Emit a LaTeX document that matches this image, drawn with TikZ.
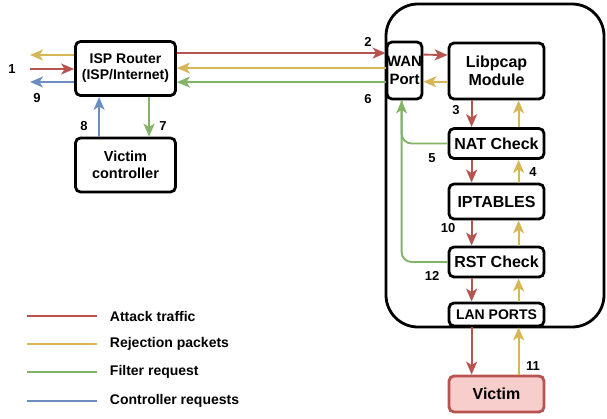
\documentclass[tikz,border=0pt]{standalone}
\usepackage{fontspec}
\setmainfont{Liberation Sans}
\usepackage{tikz}
\usetikzlibrary{arrows.meta}

\definecolor{atkred}{RGB}{184,84,80}
\definecolor{rejyel}{RGB}{214,182,86}
\definecolor{filgrn}{RGB}{130,179,102}
\definecolor{ctlblu}{RGB}{108,142,191}
\definecolor{vicpink}{RGB}{248,206,204}

\tikzset{
  blk/.style={draw, line width=2.8pt, rounded corners=5pt, fill=white, align=center,
    inner sep=1pt, font=\fontsize{16}{18}\selectfont\bfseries},
  flow/.style={line width=1.9pt, -{Stealth[length=13pt,width=11pt,inset=3.5pt]}},
  num/.style={font=\fontsize{13}{15}\selectfont\bfseries, inner sep=0.75pt},
  legtxt/.style={anchor=west, font=\fontsize{14}{16}\selectfont\bfseries, inner sep=0.75pt}
}

\begin{document}
\begin{tikzpicture}[x=1pt,y=1pt,yscale=-1,xscale=1]
\useasboundingbox (0,0) rectangle (607,418);

% router box container
\draw [line width=2.8pt, rounded corners=32pt] (386,4) rectangle (604,327);

\node [blk, minimum width=100, minimum height=54, font=\fontsize{14}{16}\selectfont\bfseries] (isp) at (125.5,68.5) {ISP Router\\(ISP/Internet)};
\node [blk, minimum width=100, minimum height=54, font=\fontsize{14.5}{17}\selectfont\bfseries] (ctl) at (125.5,165) {Victim\\controller};
\node [blk, minimum width=35, minimum height=57, inner sep=0pt, font=\fontsize{15}{18}\selectfont\bfseries] (wan) at (404.5,70.5) {WAN\\Port};
\node [blk, minimum width=95, minimum height=56] (lib) at (496.5,71) {Libpcap\\Module};
\node [blk, minimum width=95, minimum height=30] (nat) at (496.5,143.5) {NAT Check};
\node [blk, minimum width=95, minimum height=35] (ipt) at (496.5,201.5) {IPTABLES};
\node [blk, minimum width=95, minimum height=30] (rst) at (496.5,262) {RST Check};
\node [blk, minimum width=95, minimum height=23, font=\fontsize{14}{16}\selectfont\bfseries] (lan) at (496.5,314.5) {LAN PORTS};
\node [blk, minimum width=95, minimum height=36, draw=atkred, fill=vicpink] (vic) at (496.5,394) {Victim};

% free ends on the left
\coordinate (yout) at (30,55);
\coordinate (rin) at (30,69);
\coordinate (bout) at (30,82);

\draw [flow, rejyel] (isp.west |- yout) -- (yout);
\draw [flow, atkred] (rin) -- (isp.west |- rin);
\draw [flow, ctlblu] (isp.west |- bout) -- (bout);

% isp <-> controller
\draw [flow, ctlblu] ([xshift=25pt]ctl.north west) -- ([xshift=25pt]isp.south west);
\draw [flow, filgrn] ([xshift=75pt]isp.south west) -- ([xshift=75pt]ctl.north west);

% isp <-> wan
\draw [flow, atkred] ([yshift=13pt]isp.north east) -- ([yshift=12.5pt]wan.north west);
\draw [flow, rejyel] ([yshift=27.5pt]wan.north west) -- ([yshift=28pt]isp.north east);
\draw [flow, filgrn] ([yshift=41.5pt]wan.north west) -- ([yshift=42pt]isp.north east);

% wan <-> libpcap
\draw [flow, atkred] ([yshift=14pt]wan.north east) -- ([yshift=13.5pt]lib.north west);
\draw [flow, rejyel] ([yshift=40.5pt]lib.north west) -- ([yshift=41pt]wan.north east);

% chain down to the victim
\foreach \a/\b in {lib/nat, nat/ipt, ipt/rst, rst/lan, lan/vic}{
  \draw [flow, atkred] ([xshift=24pt]\a.south west) -- ([xshift=24pt]\b.north west);
  \draw [flow, rejyel] ([xshift=71pt]\b.north west) -- ([xshift=71pt]\a.south west);
}

% filter requests back to wan
\draw [line width=1.9pt, filgrn, rounded corners=10pt] (nat.west) -| ([xshift=16pt]wan.south west);
\draw [flow, filgrn, rounded corners=10pt] (rst.west) -| ([xshift=16pt]wan.south west);

% numbers
\node [num] (n1) at (12,69) {1};
\node [num] (n9) at (37,98) {9};
\node [num] (n8) at (84,126) {8};
\node [num] (n7) at (163,126) {7};
\node [num] (n2) at (368,42) {2};
\node [num] (n6) at (368,99) {6};
\node [num] (n3) at (456,110) {3};
\node [num] (n5) at (432,158) {5};
\node [num] (n4) at (533,172) {4};
\node [num] (n10) at (448,228) {10};
\node [num] (n12) at (432,276) {12};
\node [num] (n11) at (533,366) {11};

% legend
\coordinate (la) at (27,316);
\coordinate (lb) at (27,344);
\coordinate (lc) at (27,372);
\coordinate (ld) at (27,401);
\node [legtxt] (ta) at (109,316) {Attack traffic};
\node [legtxt] (tb) at (109,344) {Rejection packets};
\node [legtxt] (tc) at (109,372) {Filter request};
\node [legtxt] (td) at (109,401) {Controller requests};
\draw [line width=2pt, atkred] (la) -- ++(70,0);
\draw [line width=2pt, rejyel] (lb) -- ++(70,0);
\draw [line width=2pt, filgrn] (lc) -- ++(70,0);
\draw [line width=2pt, ctlblu] (ld) -- ++(70,0);

\end{tikzpicture}
\end{document}
